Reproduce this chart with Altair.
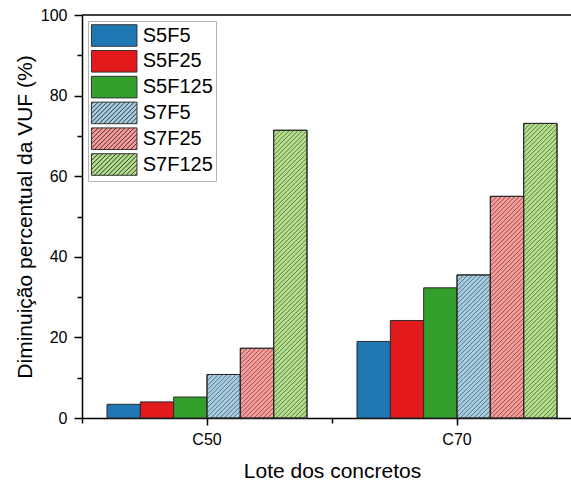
import altair as alt
import pandas as pd

# ---------------- data ----------------
lotes = ["C50", "C70"]
series = ["S5F5", "S5F25", "S5F125", "S7F5", "S7F25", "S7F125"]
valores_c50 = [3.4, 4.0, 5.2, 10.8, 17.3, 71.4]
valores_c70 = [19.0, 24.2, 32.3, 35.5, 55.0, 73.1]
cores = ["#1f78b4", "#e31a1c", "#33a02c", "#a6cee3", "#fb9a99", "#b2df8a"]
hachurado = [False, False, False, True, True, True]
y_ticks = [0, 20, 40, 60, 80, 100]
y_minor = [10, 30, 50, 70, 90]
y_topo = [100]

# ---------------- layout / style ----------------
FONT = "Liberation Sans"
W, H = 489, 403
X_RANGE = 500
PAD_IN, PAD_OUT = 0.2, 0.1
HATCH_PERIOD = 4.5
HATCH_HALF = 0.85
HATCH_COLOR = "rgba(40,40,40,0.62)"
CLEAR = "rgba(0,0,0,0)"
OUTLINE = "#2b2b2b"

rows = []
for lote, vals in zip(lotes, [valores_c50, valores_c70]):
    for s, v in zip(series, vals):
        rows.append({"Lote": lote, "Serie": s, "Valor": v})
df = pd.DataFrame(rows)

step = X_RANGE / (len(lotes) - PAD_IN + 2 * PAD_OUT)
bar_w = step * (1 - PAD_IN) / len(series)


def hatch_gradient(h_px, w_px):
    L = w_px + h_px
    d = w_px ** 2 + h_px ** 2
    p = w_px * L / d
    q = h_px * L / d
    stops = [{"offset": 0, "color": CLEAR}]
    c = HATCH_PERIOD / 2
    while c - HATCH_HALF < L:
        for off, col in ((c - HATCH_HALF, CLEAR), (c, HATCH_COLOR), (c + HATCH_HALF, CLEAR)):
            o = off / L
            if 0 <= o <= 1 and o >= stops[-1]["offset"]:
                stops.append({"offset": round(o, 5), "color": col})
        c += HATCH_PERIOD
    stops.append({"offset": 1, "color": CLEAR})
    return {"gradient": "linear", "x1": 0, "y1": 0, "x2": p, "y2": q, "stops": stops}


def legend_path(hatch):
    hx, hy = 2.07, 0.98
    parts = [f"M{-hx},{-hy}H{hx}V{hy}H{-hx}Z"]
    if hatch:
        per = HATCH_PERIOD / 11.0
        c = -hx - hy + per / 2
        while c < hx + hy:
            x0 = max(-hx, c - hy)
            x1 = min(hx, c + hy)
            if x1 - x0 > 0.05:
                parts.append(f"M{x0:.3f},{c - x0:.3f}L{x1:.3f},{c - x1:.3f}")
            c += per
    return " ".join(parts)


paths = [legend_path(h) for h in hachurado]

x_scale = alt.Scale(domain=lotes, range=[0, X_RANGE], paddingInner=PAD_IN, paddingOuter=PAD_OUT)
xo_scale = alt.Scale(domain=series)
y_scale = alt.Scale(domain=[0, 100], nice=False)

leg = alt.Legend(title=None, orient="none", legendX=6, legendY=6, direction="vertical",
                 labelFont=FONT, labelFontSize=20, labelColor="black",
                 symbolSize=484, symbolStrokeWidth=1, symbolStrokeColor="#333333",
                 symbolOpacity=1, symbolOffset=11.7, labelOffset=17,
                 padding=3, rowPadding=-1.2, strokeColor="#b5b5b5", fillColor="white")

base = alt.Chart(df)

bars = base.mark_bar(stroke=OUTLINE, strokeWidth=1).encode(
    x=alt.X("Lote:N", sort=lotes, scale=x_scale,
            axis=alt.Axis(title="Lote dos concretos", orient="bottom", bandPosition=0.5, tickSize=7,
                          labelPadding=6, labelAngle=0, labelFontSize=16,
                          titleFontSize=21, titlePadding=13, titleX=X_RANGE / 2,
                          domainWidth=1.5, tickWidth=1.5, grid=False)),
    xOffset=alt.XOffset("Serie:N", sort=series, scale=xo_scale),
    y=alt.Y("Valor:Q", scale=y_scale,
            axis=alt.Axis(title="Diminuição percentual da VUF (%)", orient="left", values=y_ticks,
                          tickSize=8, labelPadding=7, labelFontSize=16, labelFlush=False,
                          titleFontSize=21, titlePadding=5,
                          domainWidth=1.5, tickWidth=1.5, grid=False)),
    fill=alt.Fill("Serie:N", sort=series, scale=alt.Scale(domain=series, range=cores), legend=leg),
)

hatch_layers = []
for lote, vals in zip(lotes, [valores_c50, valores_c70]):
    for s, v, h in zip(series, vals, hachurado):
        if not h:
            continue
        grad = hatch_gradient(v / 100.0 * H, bar_w)
        hatch_layers.append(
            base.transform_filter(f"datum.Lote === '{lote}' && datum.Serie === '{s}'")
            .mark_bar(stroke=OUTLINE, strokeWidth=1)
            .encode(
                x=alt.X("Lote:N", sort=lotes, axis=None),
                xOffset=alt.XOffset("Serie:N", sort=series),
                y=alt.Y("Valor:Q", axis=None),
                fill=alt.value(grad),
            )
        )

# helper layer: supplies the hatched legend symbols (its own points sit outside the view)
legend_layer = base.mark_point(filled=True, opacity=1, strokeWidth=1).encode(
    x=alt.X("Lote:N", sort=lotes,
            axis=alt.Axis(orient="bottom", tickOffset=-step / 2, tickSize=5, labels=False,
                          domain=False, title=None, tickWidth=1.5, grid=False)),
    y=alt.value(-1000),
    shape=alt.Shape("Serie:N", sort=series, scale=alt.Scale(domain=series, range=paths), legend=leg),
    stroke=alt.Stroke("Serie:N", sort=series, scale=alt.Scale(domain=series, range=["#333333"] * len(series)),
                      legend=leg),
)

top_rule = alt.Chart(pd.DataFrame({"v": y_topo})).mark_rule(color="black", strokeWidth=1.5).encode(
    y=alt.Y("v:Q",
            axis=alt.Axis(orient="left", values=y_minor, tickSize=5, labels=False, domain=False,
                          title=None, tickWidth=1.5, grid=False))
)

chart = alt.layer(bars, *hatch_layers, legend_layer, top_rule).resolve_axis(
    x="independent", y="independent"
).properties(
    width=W, height=H,
    autosize=alt.AutoSizeParams(type="none"),
    padding={"left": 82, "top": 15, "right": 0, "bottom": 63},
    background="white",
).configure_view(stroke=None).configure_axis(
    labelFont=FONT, titleFont=FONT, labelColor="black", titleColor="black",
    domainColor="black", tickColor="black", titleFontWeight="normal",
)

chart.save("out.html", embed_options={"renderer": "svg", "actions": False})
